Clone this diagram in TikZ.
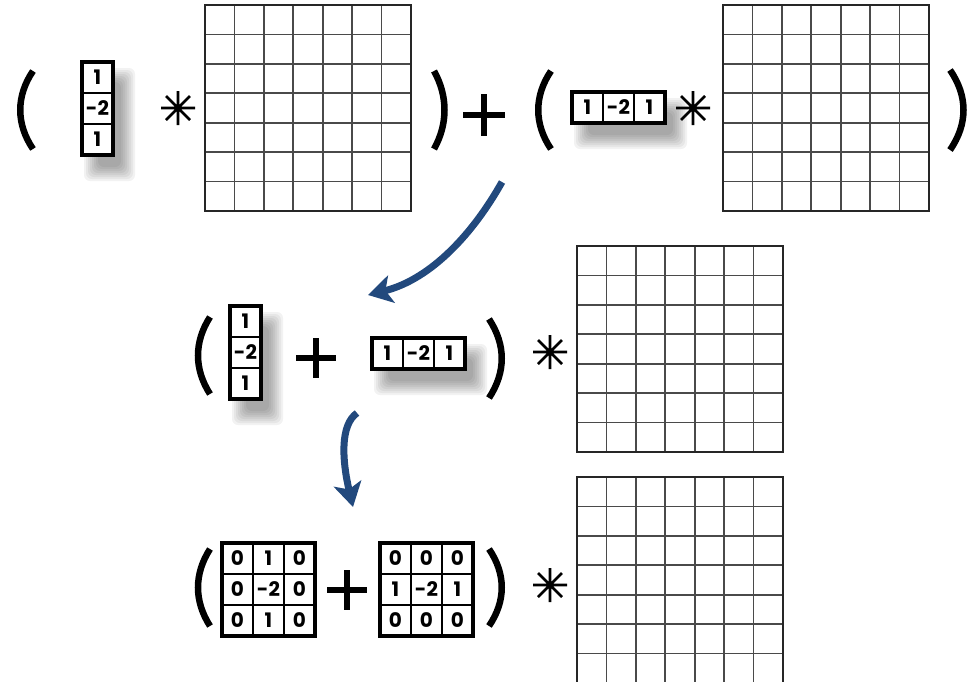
\documentclass[tikz,border=0pt]{standalone}
\usepackage{fontspec}
\setmainfont{Poppins}
\usetikzlibrary{arrows.meta}
\definecolor{FlowBlue}{HTML}{22497D}
\definecolor{GridGray}{HTML}{4A4A4A}

% 7x7 image grid, top-left corner at (#1,#2)
\newcommand{\imagegrid}[2]{%
  \foreach \k in {1,...,6} {
    \draw[gridline] ({#1+\k*206/7},#2) -- ++(0,206);
    \draw[gridline] (#1,{#2+\k*206/7}) -- ++(206,0);
  }
  \draw[gridframe] (#1,#2) rectangle ++(206,206);
}
% blurred drop shadow under a box at (#1,#2) of size #3 x #4
\newcommand{\softshadow}[4]{%
  \foreach \e in {10,8,...,-4}
    \fill[black, opacity=0.05, rounded corners=6pt]
      ({#1+12-\e},{#2+16-\e}) rectangle ({#1+#3+12+\e},{#2+#4+16+\e});
}
% kernel: name #1, corner (#2,#3), #4 columns, entries #5
\newcommand{\kernel}[5]{%
  \foreach \v [count=\i from 0] in {#5} {
    \pgfmathtruncatemacro{\c}{mod(\i,#4)}
    \pgfmathtruncatemacro{\r}{div(\i,#4)}
    \draw[kline, fill=white] ({#2+31*\c},{#3+31*\r}) rectangle ++(31,31);
    \node[digit] (#1-\i) at ({#2+31*\c+15.5},{#3+31*\r+15.5}) {\v};
  }
}

\begin{document}
\begin{tikzpicture}[x=1pt, y=-1pt, >=Stealth,
    gridline/.style={GridGray, line width=1.8pt},
    gridframe/.style={black!85, line width=2.2pt},
    kline/.style={black, line width=1.2pt},
    kframe/.style={black, line width=3.6pt},
    digit/.style={font=\bfseries\fontsize{20}{20}\selectfont, inner sep=0pt},
    paren/.style={black, line width=6.5pt},
    bigop/.style={black, line width=6.5pt},
    star/.style={black, line width=2.6pt},
    flow/.style={FlowBlue, line width=7pt,
      -{Stealth[length=24pt, width=28pt, inset=6pt]}}]
    \useasboundingbox (0,0) rectangle (978,681);

    % Row 1: ( column kernel * image ) + ( row kernel * image )
    \draw[paren] (33,71) .. controls (16,96) and (16,124) .. (33,149);
    \softshadow{82}{62}{31}{93}
    \kernel{kcol}{82}{62}{1}{1,-2,1}
    \draw[kframe] (82,62) rectangle ++(31,93);
    \draw[star] (178,91) -- (178,125) (161,108) -- (195,108)
        (166,96) -- (190,120) (166,120) -- (190,96);
    \imagegrid{205}{5}
    \draw[paren] (434,71) .. controls (448,96) and (448,124) .. (434,149);
    \draw[bigop] (463,115) -- (505,115) (484,94) -- (484,136);
    \draw[paren] (551,71) .. controls (534,96) and (534,124) .. (551,149);
    \softshadow{572}{92}{93}{31}
    \kernel{krow}{572}{92}{3}{1,-2,1}
    \draw[kframe] (572,92) rectangle ++(93,31);
    \draw[star] (693,91) -- (693,125) (676,108) -- (710,108)
        (681,96) -- (705,120) (681,120) -- (705,96);
    \imagegrid{723}{5}
    \draw[paren] (950,70) .. controls (968,96) and (968,124) .. (950,150);

    % Row 2: ( column kernel + row kernel ) * image
    \draw[paren] (210,317) .. controls (194,342) and (194,369) .. (210,394);
    \softshadow{230}{306}{31}{93}
    \kernel{kcolb}{230}{306}{1}{1,-2,1}
    \draw[kframe] (230,306) rectangle ++(31,93);
    \draw[bigop] (296,358) -- (336,358) (316,338) -- (316,378);
    \softshadow{372}{338}{93}{31}
    \kernel{krowb}{372}{338}{3}{1,-2,1}
    \draw[kframe] (372,338) rectangle ++(93,31);
    \draw[paren] (489,319) .. controls (506,345) and (506,372) .. (489,398);
    \draw[star] (550,335) -- (550,369) (533,352) -- (567,352)
        (538,340) -- (562,364) (538,364) -- (562,340);
    \imagegrid{577}{246}

    % Row 3: ( 3x3 kernel + 3x3 kernel ) * image
    \draw[paren] (210,549) .. controls (194,574) and (194,601) .. (210,626);
    \kernel{kvert}{222}{543}{3}{0,1,0,0,-2,0,0,1,0}
    \draw[kframe] (222,543) rectangle ++(93,93);
    \draw[bigop] (327,590) -- (367,590) (347,570) -- (347,610);
    \kernel{khorz}{380}{543}{3}{0,0,0,1,-2,1,0,0,0}
    \draw[kframe] (380,543) rectangle ++(93,93);
    \draw[paren] (489,549) .. controls (506,574) and (506,601) .. (489,626);
    \draw[star] (550,568) -- (550,602) (533,585) -- (567,585)
        (538,573) -- (562,597) (538,597) -- (562,573);
    \imagegrid{577}{477}

    % Flow arrows
    \coordinate (fromtop) at (502,182);
    \coordinate (tomid) at (368,295);
    \coordinate (frommid) at (357,413);
    \coordinate (tobottom) at (353,507);
    \draw[flow] (fromtop) .. controls (474,232) and (432,279) .. (tomid);
    \draw[flow] (frommid) .. controls (340,425) and (342,460) .. (tobottom);
\end{tikzpicture}
\end{document}
